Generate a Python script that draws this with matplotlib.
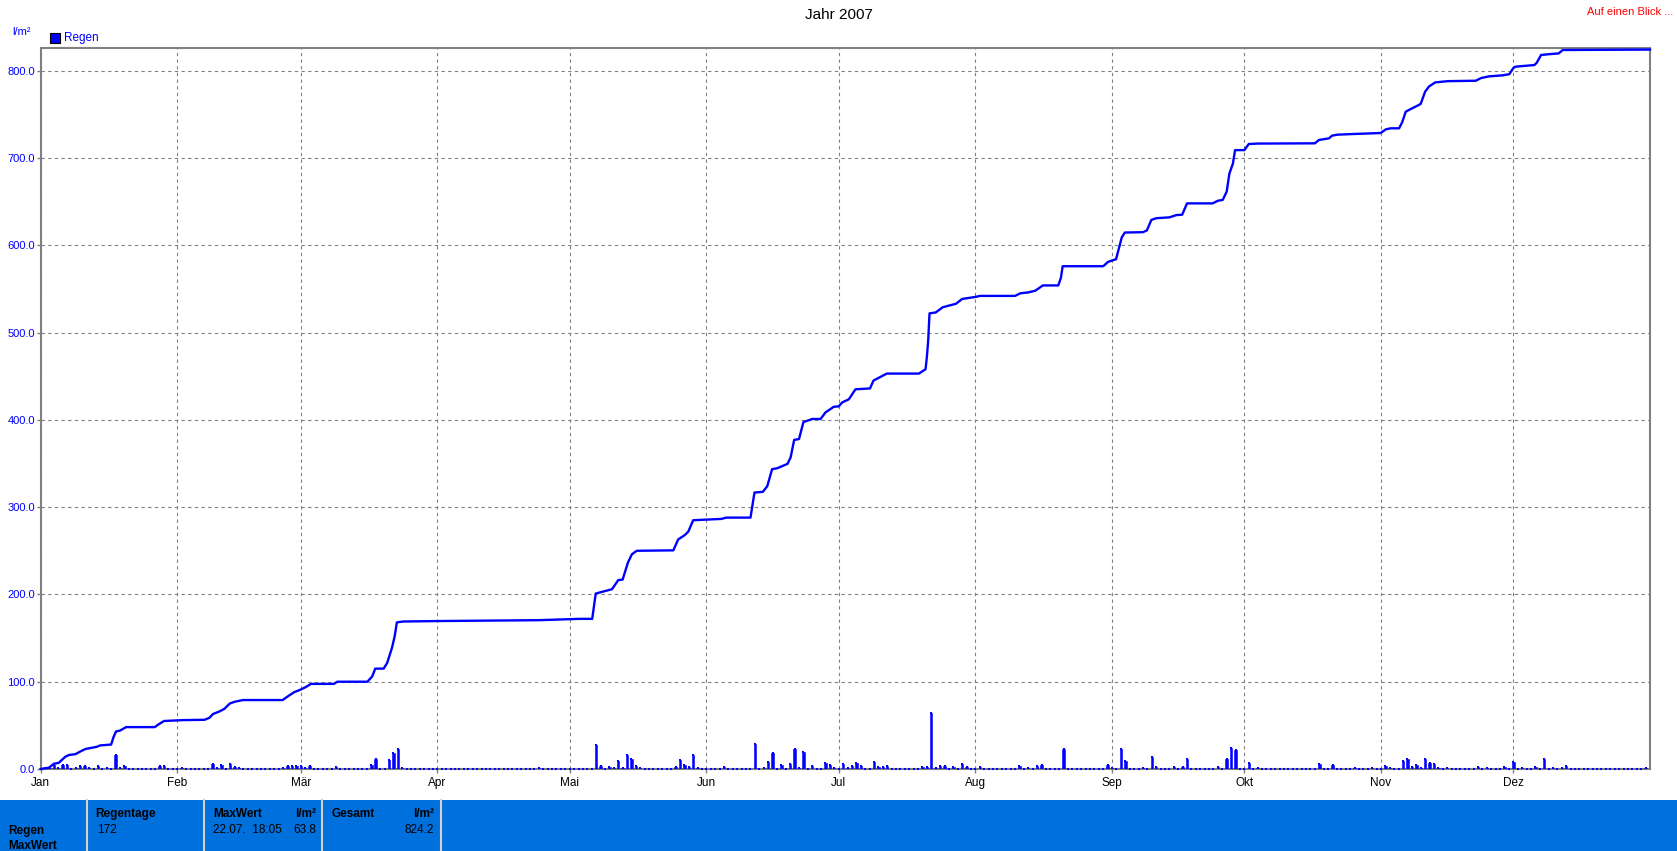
import numpy as np
import matplotlib
matplotlib.use("Agg")
import matplotlib.pyplot as plt
from matplotlib.patches import Rectangle

plt.rcParams['font.family'] = ['Liberation Sans', 'DejaVu Sans']

# ---------------- data ----------------
month_labels = ['Jan', 'Feb', 'Mär', 'Apr', 'Mai', 'Jun', 'Jul', 'Aug', 'Sep', 'Okt', 'Nov', 'Dez']
month_start = [0, 31, 59, 90, 120, 151, 181, 212, 243, 273, 304, 334]
y_ticks = [0, 100, 200, 300, 400, 500, 600, 700, 800]

# daily rain amounts (day of year, 0 = 1 Jan) in l/m²
rain_day = [1, 2, 3, 4, 5, 6, 8, 9, 10, 11, 13, 15, 17, 18, 19, 27, 28, 32,
            39, 40, 41, 43, 44, 45, 55, 56, 57, 58, 59, 60, 61, 67, 75, 76, 79, 80, 81, 82, 113,
            126, 127, 129, 130, 131, 132, 133, 134, 135, 136, 144, 145, 146, 147, 148, 149,
            155, 162, 164, 165, 166, 168, 170, 171, 172, 173, 175, 178, 179, 180,
            182, 183, 184, 185, 186, 189, 190, 191, 192, 200, 201, 202, 203, 204, 205, 207, 209, 210,
            213, 222, 224, 226, 227, 232,
            242, 243, 245, 246, 250, 252, 253, 257, 259, 260, 267, 269, 270, 271,
            274, 276, 290, 293, 298, 302,
            305, 306, 309, 310, 311, 312, 313, 314, 315, 316, 317, 319, 326, 328, 332,
            334, 336, 339, 341, 343, 345, 346, 364]
rain_mm = [1, 1, 4.5, 1, 5, 5, 1, 3, 4, 1, 3, 1, 16.5, 1, 4, 3, 4, 1,
           6, 1, 5, 6, 2.5, 1, 1, 4, 4, 4, 3, 1, 4, 2.5, 5, 12, 10.5, 18.5, 23, 1, 1,
           28, 3.4, 2.3, 1, 9, 1, 16.3, 11.4, 3, 1, 2, 10.3, 5, 2.7, 16.3, 1,
           2, 28.5, 1, 8, 18.6, 5, 5.7, 22.8, 1, 19.4, 3.4, 7.2, 5, 1,
           6, 1, 3.4, 7.2, 3.4, 8, 2.7, 2.7, 3.4, 2.3, 2.3, 63.8, 1.5, 3.4, 3.4, 2.7, 5.7, 2.7,
           2.7, 3.4, 1, 3.8, 5, 23.2,
           5, 1, 23.2, 9.5, 1, 14, 2.3, 2.7, 2.3, 11.8, 2.3, 11.8, 24.3, 22,
           7.2, 1, 6, 5, 1, 1,
           3.8, 1, 9.5, 11.8, 2.3, 5, 1, 11.8, 7.2, 6, 1, 1, 2.7, 1, 2.7,
           8, 1, 2.7, 11.8, 1, 1, 3, 1]

# cumulative rain line (day of year, l/m²)
sum_day = [0, 1.9, 3.0, 4.1, 5.6, 6.4, 7.9, 9.0, 10.2, 11.3, 12.8, 13.5, 16.0, 16.5, 17.1, 18.0, 19.4, 25.9, 26.7, 28.0,
           32.3, 37.2, 38.3, 39.1, 40.6, 41.7, 42.9, 44.0, 45.9, 54.9, 56.0, 57.5, 59.0, 60.2, 61.3, 66.5, 67.3,
           74.1, 75.2, 75.9, 77.8, 78.6, 79.7, 80.3, 80.8, 82.3, 90.2,
           113.0, 122.1, 125.1, 125.9, 127.4, 129.6, 131.0, 132.0, 133.2, 134.1, 135.2, 143.5, 144.6, 146.1, 146.9,
           148.0, 154.4, 155.5, 161.0, 161.9, 163.8, 164.8, 165.9, 167.1, 169.4, 170.1, 170.9, 172.0, 173.0, 175.0,
           176.9, 178.0, 179.9,
           181.0, 181.8, 183.3, 184.8, 188.1, 188.9, 191.9, 199.2, 200.7, 201.0, 201.3, 201.6, 203.0, 204.6, 207.6,
           209.0, 210.5, 212.0, 213.1, 221.0, 222.2, 224.0, 225.6, 227.3, 230.8, 231.4, 231.8,
           241.0, 242.1, 243.9, 244.4, 245.2, 245.9, 250.0, 250.9, 251.9, 253.0, 256.0, 257.6, 258.9, 260.0, 265.8,
           267.0, 268.1, 269.0, 269.6, 270.4, 270.9, 273.0, 274.0, 276.0, 289.0, 289.9, 292.2, 292.9, 294.1, 297.9,
           303.9, 305.1, 306.2, 308.1, 308.8, 309.6, 310.7, 312.3, 313.0, 314.0, 314.9, 316.3, 319.1, 325.5, 326.7,
           328.5, 331.6, 333.1, 334.0, 334.5, 338.8, 339.3, 340.3, 342.3, 344.3, 345.2, 365.0]
sum_mm = [0, 1.5, 6, 7, 14, 16, 17, 20, 23, 24, 25.5, 27, 28, 36, 43, 44, 48, 48, 51, 55,
          56, 56.4, 58.7, 63, 66, 69, 75, 77, 79, 79, 83, 88, 91, 94, 97.5, 97.5, 100,
          100, 106, 115, 115, 121.5, 139, 152, 168, 169, 169.5,
          170.5, 172, 172, 201, 203, 206, 216.4, 217, 236.5, 246, 250, 250.5, 263, 268, 272,
          285, 286.5, 288, 288, 316.7, 317.5, 324, 343.5, 344.6, 349.6, 357, 377, 378, 397.4, 401,
          401, 408.5, 415,
          415.4, 420, 423.5, 435, 436, 445, 453, 453, 458, 472, 491, 522, 523, 529, 533,
          538.5, 539.6, 540.8, 542, 542, 545, 546, 548, 554, 554, 562.7, 576,
          576, 581, 584, 593.5, 609, 614.6, 615, 617, 629, 631, 632, 634.6, 635, 648, 648,
          651, 652, 661.5, 682, 693.5, 709, 709, 716, 716.5, 716.8, 720.6, 722.5, 725.6, 726.7, 727.5,
          728.6, 732.8, 734, 734, 741, 753, 756, 760, 762, 776, 782, 786.6, 788, 788.5, 791.6,
          793.5, 794.7, 796, 803, 804.6, 806.5, 809, 818, 819, 819.8, 823.7, 824.2]

n_days = 365
stat_regentage = '172'
stat_max_when = '22.07.  18:05'
stat_max_val = '63.8'
stat_total = '824.2'

# ---------------- figure ----------------
W, H = 1677, 851
fig = plt.figure(figsize=(W / 100, H / 100), dpi=100)
fig.patch.set_facecolor('white')

x0, x1, ytop, ybot = 40.6, 1650.0, 48.0, 769.0
ax = fig.add_axes([x0 / W, 1 - ybot / H, (x1 - x0) / W, (ybot - ytop) / H])
ax.set_xlim(0, n_days)
ax.set_ylim(0, 826)

blue = '#0000FF'
gray = '#808080'

ax.grid(True, color=gray, linestyle=(0, (3, 3)), linewidth=0.8, zorder=1)
ax.set_axisbelow(True)

daily = np.zeros(n_days)
daily[np.array(rain_day)] = rain_mm
days = np.arange(n_days)
ax.bar(days, daily, width=0.55, color=blue, edgecolor=blue, linewidth=0.4, zorder=3)
ax.scatter(days, daily, s=3, marker='s', color=blue, linewidths=0, zorder=4, clip_on=False)

ax.plot(sum_day, sum_mm, color=blue, linewidth=1.7, zorder=5, clip_on=False)

for sp in ax.spines.values():
    sp.set_color(gray)
    sp.set_linewidth(1.5)
    sp.set_zorder(2.6)

ax.set_yticks(y_ticks)
ax.set_yticklabels([f'{v:.1f}' for v in y_ticks])
ax.set_xticks(month_start)
ax.set_xticklabels(month_labels)
ax.tick_params(axis='y', colors=gray, labelcolor=blue, labelsize=8, length=3, width=1, pad=1)
ax.tick_params(axis='x', colors=gray, labelcolor='black', labelsize=8.5, length=3, width=1, pad=3)

# titles / labels
fig.text(0.5, 1 - 15 / H, 'Jahr 2007', ha='center', va='center', fontsize=11)
fig.text(1673 / W, 1 - 12 / H, 'Auf einen Blick ...', ha='right', va='center', color='red', fontsize=8)
fig.text(12 / W, 1 - 32 / H, 'l/m²', ha='left', va='center', color=blue, fontsize=8)
fig.patches.append(Rectangle((50 / W, 1 - 43 / H), 10 / W, 10 / H, transform=fig.transFigure,
                             facecolor=blue, edgecolor='black', linewidth=0.8))
fig.text(64 / W, 1 - 38 / H, 'Regen', ha='left', va='center', color=blue, fontsize=8.5)

# bottom statistics panel
fig.patches.append(Rectangle((0, 0), 1, (H - 800) / H, transform=fig.transFigure,
                             facecolor='#0070DD', edgecolor='none'))
for xd in [87.3, 204, 322.3, 440.7]:
    fig.add_artist(plt.Line2D([xd / W, xd / W], [0, (H - 800) / H], transform=fig.transFigure,
                              color='#D4D0C8', linewidth=1.5))

def ptxt(x, y, s, bold=False, ha='left'):
    fig.text(x / W, 1 - y / H, s, ha=ha, va='center', fontsize=8.5,
             fontweight='bold' if bold else 'normal', color='black')

ptxt(8, 831, 'Regen', bold=True)
ptxt(8, 846, 'MaxWert', bold=True)
ptxt(95, 814, 'Regentage', bold=True)
ptxt(97, 830, stat_regentage)
ptxt(213, 814, 'MaxWert', bold=True)
ptxt(316, 814, 'l/m²', bold=True, ha='right')
ptxt(213, 830, stat_max_when)
ptxt(316, 830, stat_max_val, ha='right')
ptxt(331, 814, 'Gesamt', bold=True)
ptxt(434, 814, 'l/m²', bold=True, ha='right')
ptxt(434, 830, stat_total, ha='right')

fig.savefig('out.png', dpi=100, facecolor='white')
